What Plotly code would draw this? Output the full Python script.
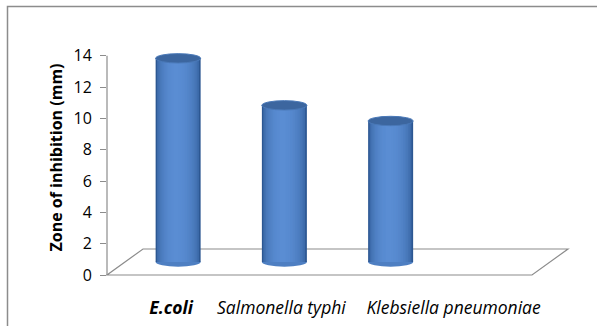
import numpy as np
import plotly.graph_objects as go

# ---------------- data ----------------
categories = ["E.coli", "Salmonella typhi", "Klebsiella pneumoniae"]
zone_mm = [13, 10, 9]
y_ticks = [0, 2, 4, 6, 8, 10, 12, 14]
y_title = "Zone of inhibition (mm)"

# ---------------- style / geometry ----------------
FIG_W, FIG_H = 597, 326
ML, MR, MT, MB = 107, 65, 40, 51
PW, PH = FIG_W - ML - MR, FIG_H - MT - MB
Y_MAX = 15.0
X_RANGE = [-0.5, 3.5]
PX_PER_X = PW / (X_RANGE[1] - X_RANGE[0])
PX_PER_Y = PH / Y_MAX
DEPTH_DX, DEPTH_DY = 36, 26          # floor depth in pixels
SX = (DEPTH_DX / 2) / PX_PER_X       # bars sit at mid depth
SY = (DEPTH_DY / 2) / PX_PER_Y
BAR_W = 45 / PX_PER_X
ELL_H = 4.7 / PX_PER_Y
LABEL_SHIFT_PX = [-7, -3, 63]
GRID = "#8c8c8c"
FONT = "Open Sans"
DARK = np.array([0x2c, 0x57, 0x92])
LIGHT = np.array([0x5a, 0x8d, 0xd3])
PEAK = 0.45

def px2paper_x(px):
    return (px - ML) / PW

def px2paper_y(py):
    return (FIG_H - MB - py) / PH

fig = go.Figure()
idx = list(range(len(categories)))

# anchor trace so the main x/y axes are drawn
fig.add_trace(go.Scatter(x=[X_RANGE[0]], y=[0], mode="markers",
                         marker=dict(opacity=0), showlegend=False, hoverinfo="skip"))

# cylinder bodies: layered bars to imitate the shading gradient
fracs = np.linspace(1.0, 0.12, 14)
for f in fracs:
    b = np.sqrt(max(0.0, 1 - f * f))
    c = DARK + (LIGHT - DARK) * b
    col = "rgb(%d,%d,%d)" % tuple(int(round(v)) for v in c)
    fig.add_trace(go.Bar(
        x=idx, y=zone_mm, xaxis="x2", yaxis="y2",
        width=BAR_W * f, offset=-BAR_W / 2 + BAR_W * PEAK * (1 - f),
        marker=dict(color=col, line=dict(width=0)),
        showlegend=False, hoverinfo="skip"))

shapes = []
# chart border
shapes.append(dict(type="rect", xref="paper", yref="paper",
                   x0=px2paper_x(7.5), x1=px2paper_x(FIG_W + 10),
                   y0=px2paper_y(FIG_H + 10), y1=px2paper_y(6.5),
                   line=dict(color=GRID, width=1.5), layer="below"))
# floor
dxp, dyp = DEPTH_DX / PW, DEPTH_DY / PH
shapes.append(dict(type="path", xref="paper", yref="paper",
                   path=f"M 0,0 L 1,0 L {1+dxp},{dyp} L {dxp},{dyp} Z",
                   line=dict(color=GRID, width=1.2), layer="below"))
# y axis line (0 .. 14)
shapes.append(dict(type="line", xref="paper", yref="paper",
                   x0=0, x1=0, y0=0, y1=y_ticks[-1] / Y_MAX,
                   line=dict(color=GRID, width=1.2), layer="below"))
# cylinder bottoms and tops
mid = DARK + (LIGHT - DARK) * 0.75
mid_col = "rgb(%d,%d,%d)" % tuple(int(v) for v in mid)
for i, v in zip(idx, zone_mm):
    shapes.append(dict(type="circle", xref="x2", yref="y2",
                       x0=i - BAR_W / 2, x1=i + BAR_W / 2,
                       y0=-ELL_H, y1=ELL_H,
                       fillcolor=mid_col, line=dict(width=0), layer="below"))
    shapes.append(dict(type="circle", xref="x2", yref="y2",
                       x0=i - BAR_W / 2, x1=i + BAR_W / 2,
                       y0=v - ELL_H, y1=v + ELL_H,
                       fillcolor="#3c669f", line=dict(color="#4a79b8", width=1),
                       layer="above"))

ticktext = ["<b><i>%s</i></b>" % categories[0]] + ["<i>%s</i>" % c for c in categories[1:]]
tickvals = [i + SX + s / PX_PER_X for i, s in zip(idx, LABEL_SHIFT_PX)]

fig.update_layout(
    width=FIG_W, height=FIG_H,
    margin=dict(l=ML, r=MR, t=MT, b=MB, autoexpand=False),
    paper_bgcolor="white", plot_bgcolor="rgba(0,0,0,0)",
    barmode="overlay", showlegend=False,
    font=dict(family=FONT, color="#000000"),
    shapes=shapes,
    xaxis=dict(range=X_RANGE, showgrid=False, zeroline=False, showline=False,
               tickvals=tickvals, ticktext=ticktext, ticks="", automargin=False,
               tickfont=dict(size=17.5, family=FONT), ticklabelstandoff=20),
    yaxis=dict(range=[0, Y_MAX], showgrid=False, zeroline=False, showline=False,
               tickvals=y_ticks, ticks="outside", ticklen=6, tickcolor=GRID,
               automargin=False,
               tickfont=dict(size=16, family=FONT), ticklabelstandoff=5,
               title=dict(text="<b>%s</b>" % y_title, font=dict(size=16, family=FONT),
                          standoff=6)),
    xaxis2=dict(overlaying="x", range=[X_RANGE[0] - SX, X_RANGE[1] - SX], visible=False),
    yaxis2=dict(overlaying="y", range=[-SY, Y_MAX - SY], visible=False),
)

fig.write_html("out.html")
